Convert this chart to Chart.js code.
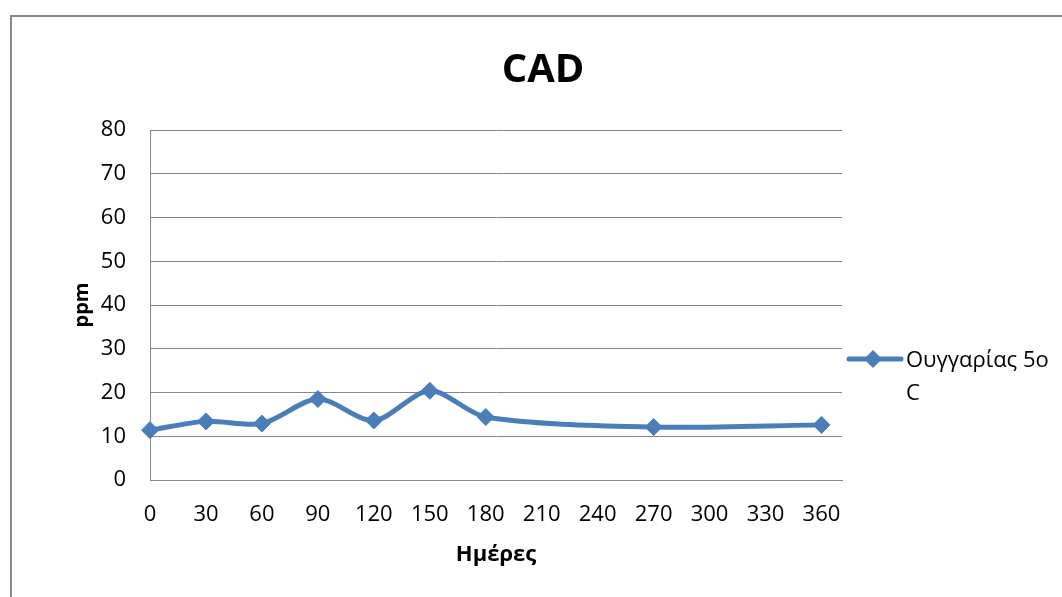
<!DOCTYPE html>
<html>
<head>
<meta charset="utf-8">
<script src="https://cdn.jsdelivr.net/npm/chart.js@4/dist/chart.umd.min.js"></script>
<style>
  body { margin: 0; background: #fff; }
</style>
</head>
<body>
<canvas id="cad-chart" width="1062" height="597"></canvas>
<script>
const days = [0, 30, 60, 90, 120, 150, 180, 270, 360];
const cadValues = [11.4, 13.4, 12.9, 18.5, 13.6, 20.4, 14.4, 12.1, 12.6];
const xTicks = [0, 30, 60, 90, 120, 150, 180, 210, 240, 270, 300, 330, 360];
const seriesName = ['Ουγγαρίας 5o', 'C'];
const chartTitle = 'CAD';

const blue = '#4A7EBB';
const gridGray = '#868686';
const font = '"Open Sans", "Noto Sans", sans-serif';

// frame, title and the wrapped legend entry like the Excel original
const decorations = {
    id: 'decorations',
    beforeDraw(chart) {
        const ctx = chart.ctx;
        ctx.save();
        ctx.strokeStyle = '#888888';
        ctx.lineWidth = 2;
        ctx.strokeRect(11, 16, 1200, 800);
        ctx.restore();
    },
    afterDraw(chart) {
        const ctx = chart.ctx;
        ctx.save();
        ctx.fillStyle = '#000';
        ctx.font = 'bold 40px ' + font;
        ctx.textAlign = 'center';
        ctx.textBaseline = 'alphabetic';
        ctx.fillText(chartTitle, 543, 82);

        // legend
        ctx.strokeStyle = blue;
        ctx.lineWidth = 5;
        ctx.lineCap = 'round';
        ctx.beginPath();
        ctx.moveTo(849, 359);
        ctx.lineTo(901, 359);
        ctx.stroke();
        ctx.fillStyle = blue;
        ctx.beginPath();
        ctx.moveTo(873, 350);
        ctx.lineTo(882, 359);
        ctx.lineTo(873, 368);
        ctx.lineTo(864, 359);
        ctx.closePath();
        ctx.fill();

        ctx.fillStyle = '#000';
        ctx.font = '22px ' + font;
        ctx.textAlign = 'left';
        ctx.fillText(seriesName[0], 906, 367);
        ctx.fillText(seriesName[1], 906, 400);
        ctx.restore();
    }
};

const ctx = document.getElementById('cad-chart').getContext('2d');
new Chart(ctx, {
    type: 'line',
    data: {
        datasets: [{
            label: seriesName.join(''),
            data: days.map((d, i) => ({ x: d, y: cadValues[i] })),
            borderColor: blue,
            backgroundColor: blue,
            borderWidth: 5,
            tension: 0.3,
            pointStyle: 'rectRot',
            pointRadius: 8.5,
            pointBorderWidth: 1,
            clip: false
        }]
    },
    options: {
        responsive: false,
        animation: false,
        layout: {
            padding: { left: 60, right: 220, top: 130, bottom: 10 }
        },
        plugins: {
            legend: { display: false },
            title: { display: false },
            tooltip: { enabled: false }
        },
        scales: {
            x: {
                type: 'linear',
                min: 0,
                max: 371,
                afterBuildTicks: function(scale) {
                    scale.ticks = xTicks.map(v => ({ value: v }));
                },
                afterFit: function(scale) {
                    scale.height = 107;
                },
                grid: { display: false, drawTicks: false },
                border: { display: true, color: gridGray, width: 1 },
                ticks: {
                    color: '#000',
                    padding: 22,
                    maxRotation: 0,
                    autoSkip: false,
                    font: { family: font, size: 22 }
                },
                title: {
                    display: true,
                    text: 'Ημέρες',
                    color: '#000',
                    padding: { top: 0, bottom: 19 },
                    font: { family: font, size: 22, weight: 'bold' }
                }
            },
            y: {
                min: 0,
                max: 80,
                afterFit: function(scale) {
                    scale.width = 90;
                },
                grid: { color: gridGray, lineWidth: 1, drawTicks: false },
                border: { display: true, color: gridGray, width: 1 },
                ticks: {
                    stepSize: 10,
                    color: '#000',
                    padding: 24,
                    font: { family: font, size: 22 }
                },
                title: {
                    display: true,
                    text: 'ppm',
                    color: '#000',
                    padding: { top: 10, bottom: 0 },
                    font: { family: font, size: 20, weight: 'bold' }
                }
            }
        }
    },
    plugins: [decorations]
});
</script>
</body>
</html>
